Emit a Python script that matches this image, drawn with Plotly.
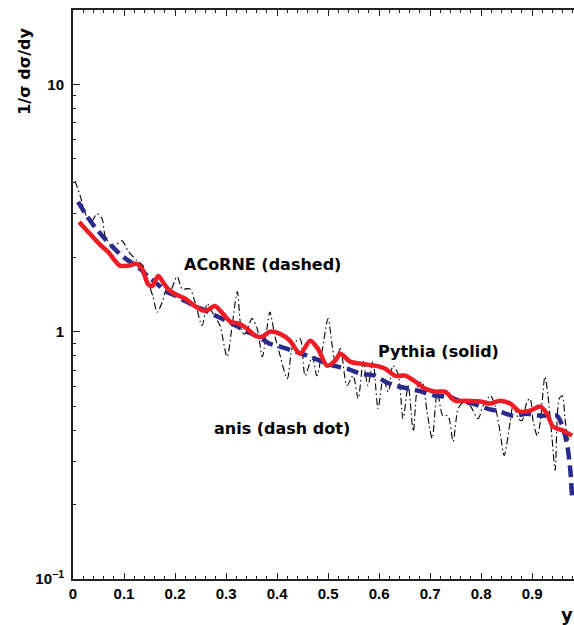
import plotly.graph_objects as go

# Pythia (solid, red)
pythia_x = [0.012, 0.033, 0.053, 0.069, 0.092, 0.108, 0.125, 0.135, 0.147, 0.155, 0.167, 0.176, 0.186,
            0.200, 0.220, 0.239, 0.253, 0.263, 0.278, 0.294, 0.308, 0.324, 0.341, 0.357, 0.371, 0.386,
            0.406, 0.425, 0.445, 0.465, 0.480, 0.498, 0.514, 0.524, 0.543, 0.563, 0.592, 0.612, 0.631,
            0.651, 0.671, 0.690, 0.710, 0.729, 0.749, 0.769, 0.798, 0.818, 0.837, 0.857, 0.876, 0.896,
            0.916, 0.929, 0.941, 0.961, 0.978]
pythia_y = [2.78, 2.49, 2.25, 2.10, 1.85, 1.85, 1.88, 1.80, 1.56, 1.53, 1.68, 1.59, 1.49,
            1.42, 1.36, 1.27, 1.22, 1.22, 1.27, 1.18, 1.10, 1.08, 1.03, 0.963, 0.955, 1.00,
            0.98, 0.92, 0.815, 0.92, 0.854, 0.729, 0.764, 0.815, 0.757, 0.743, 0.729, 0.709, 0.664,
            0.664, 0.628, 0.589, 0.572, 0.572, 0.526, 0.526, 0.522, 0.512, 0.526, 0.512, 0.475, 0.480,
            0.498, 0.466, 0.413, 0.398, 0.380]

# ACoRNE (dashed, blue)
acorne_x = [0.010, 0.027, 0.043, 0.059, 0.078, 0.098, 0.118, 0.131, 0.147, 0.165, 0.184, 0.200, 0.220,
            0.239, 0.259, 0.284, 0.312, 0.337, 0.363, 0.386, 0.406, 0.431, 0.459, 0.484, 0.510, 0.537,
            0.563, 0.592, 0.612, 0.631, 0.657, 0.684, 0.710, 0.735, 0.763, 0.784, 0.812, 0.837, 0.863,
            0.890, 0.916, 0.949, 0.959, 0.969, 0.975, 0.978]
acorne_y = [3.35, 2.94, 2.65, 2.42, 2.20, 2.01, 1.88, 1.80, 1.67, 1.56, 1.45, 1.40, 1.33,
            1.27, 1.22, 1.15, 1.08, 1.01, 0.955, 0.894, 0.870, 0.838, 0.800, 0.764, 0.729, 0.709,
            0.677, 0.664, 0.628, 0.605, 0.589, 0.572, 0.551, 0.546, 0.522, 0.512, 0.489, 0.475, 0.457,
            0.466, 0.457, 0.457, 0.417, 0.346, 0.272, 0.218]

# anis (dash dot, black)
anis_x = [0.004, 0.014, 0.027, 0.037, 0.047, 0.057, 0.063, 0.078, 0.096, 0.108, 0.125, 0.137, 0.147,
          0.157, 0.165, 0.175, 0.184, 0.190, 0.204, 0.214, 0.229, 0.239, 0.253, 0.263, 0.269, 0.278,
          0.288, 0.302, 0.312, 0.322, 0.331, 0.337, 0.351, 0.361, 0.371, 0.380, 0.386, 0.396, 0.406,
          0.420, 0.431, 0.445, 0.455, 0.469, 0.478, 0.488, 0.500, 0.508, 0.514, 0.524, 0.537, 0.549,
          0.559, 0.569, 0.578, 0.588, 0.598, 0.608, 0.618, 0.627, 0.637, 0.647, 0.657, 0.667, 0.676,
          0.684, 0.694, 0.704, 0.714, 0.725, 0.735, 0.745, 0.755, 0.765, 0.778, 0.794, 0.804, 0.818,
          0.827, 0.837, 0.845, 0.857, 0.863, 0.873, 0.880, 0.890, 0.896, 0.902, 0.910, 0.916, 0.925,
          0.931, 0.939, 0.945, 0.953, 0.959, 0.965, 0.971, 0.978]
anis_y = [4.07, 3.55, 2.92, 2.81, 3.00, 2.86, 2.44, 2.20, 2.33, 2.12, 1.94, 1.85, 1.59,
          1.38, 1.20, 1.32, 1.49, 1.45, 1.67, 1.49, 1.49, 1.32, 1.06, 1.30, 1.24, 1.15,
          1.06, 0.792, 1.06, 1.45, 1.00, 0.98, 1.13, 1.03, 0.792, 1.03, 1.20, 0.955, 0.800,
          0.646, 0.878, 0.937, 0.664, 0.792, 0.664, 0.830, 1.13, 0.878, 0.757, 0.854, 0.605, 0.664,
          0.536, 0.757, 0.605, 0.757, 0.489, 0.646, 0.572, 0.729, 0.677, 0.445, 0.605, 0.395, 0.605,
          0.628, 0.475, 0.370, 0.572, 0.457, 0.457, 0.360, 0.489, 0.517, 0.503, 0.445, 0.503, 0.551,
          0.503, 0.395, 0.316, 0.433, 0.512, 0.445, 0.437, 0.522, 0.536, 0.433, 0.380, 0.433, 0.658,
          0.551, 0.370, 0.275, 0.536, 0.551, 0.433, 0.370, 0.360]

x_tickvals = [0, 0.1, 0.2, 0.3, 0.4, 0.5, 0.6, 0.7, 0.8, 0.9]
x_ticktext = ["0", "0.1", "0.2", "0.3", "0.4", "0.5", "0.6", "0.7", "0.8", "0.9"]
y_tickvals = [0.1, 1, 10]
y_ticktext = ["10<sup>\u22121</sup>", "1", "10"]
y_minor = [0.2, 0.3, 0.4, 0.5, 0.6, 0.7, 0.8, 0.9, 2, 3, 4, 5, 6, 7, 8, 9, 20]

fig = go.Figure()
fig.add_trace(go.Scatter(x=anis_x, y=anis_y, mode="lines",
                         line=dict(color="black", width=1.1, dash="7px,3px,1.5px,3px", shape="spline", smoothing=0.8)))
fig.add_trace(go.Scatter(x=acorne_x, y=acorne_y, mode="lines",
                         line=dict(color="#2a2a8c", width=4.5, dash="12px,6px", shape="spline", smoothing=0.6)))
fig.add_trace(go.Scatter(x=pythia_x, y=pythia_y, mode="lines",
                         line=dict(color="#ee1c24", width=4.5, shape="spline", smoothing=0.8)))

tickfont = dict(family="Liberation Sans, Arial, sans-serif", size=15, color="black")
lblfont = dict(family="DejaVu Sans, sans-serif", size=16, color="black")

def label(text, x, y, **kw):
    d = dict(text=text, x=x, y=y, xref="paper", yref="paper", showarrow=False,
             xanchor="center", yanchor="middle", font=lblfont)
    d.update(kw)
    return d

fig.update_layout(
    width=574, height=625,
    margin=dict(l=73, r=0, t=10, b=46),
    plot_bgcolor="white", paper_bgcolor="white",
    showlegend=False,
    xaxis=dict(range=[0, 0.982], tickvals=x_tickvals, ticktext=["<b>%s</b>" % t for t in x_ticktext],
               ticks="inside", ticklen=6, tickwidth=1.2, tickcolor="#222",
               showline=True, linecolor="#222", linewidth=2, mirror="ticks",
               showgrid=False, zeroline=False, tickfont=tickfont,
               minor=dict(dtick=0.02, ticks="inside", ticklen=3, tickwidth=1, tickcolor="#222", showgrid=False)),
    yaxis=dict(type="log", range=[-1, 1.301], tickvals=y_tickvals, ticktext=["<b>%s</b>" % t for t in y_ticktext],
               ticks="inside", ticklen=7, tickwidth=1.2, tickcolor="#222",
               showline=True, linecolor="#222", linewidth=2, mirror=False,
               showgrid=False, zeroline=False, tickfont=tickfont, ticklabelstandoff=4,
               minor=dict(tickvals=y_minor, ticks="inside", ticklen=3, tickwidth=1, tickcolor="#222", showgrid=False)),
    annotations=[
        label("<b>ACoRNE (dashed)</b>", 0.379, 0.552),
        label("<b>Pythia (solid)</b>", 0.729, 0.399),
        label("<b>anis (dash dot)</b>", 0.417, 0.265),
        label("<b>y</b>", 0.986, -0.063, font=dict(family="DejaVu Sans, sans-serif", size=18, color="black")),
        label("<b>1/\u03c3 d\u03c3/dy</b>", -0.096, 0.893, textangle=-90,
              font=dict(family="DejaVu Sans, sans-serif", size=16, color="black")),
    ],
)

fig.write_html("out.html", config={"displayModeBar": False},
               post_script="document.body.style.margin='0';document.body.style.overflow='hidden';")
